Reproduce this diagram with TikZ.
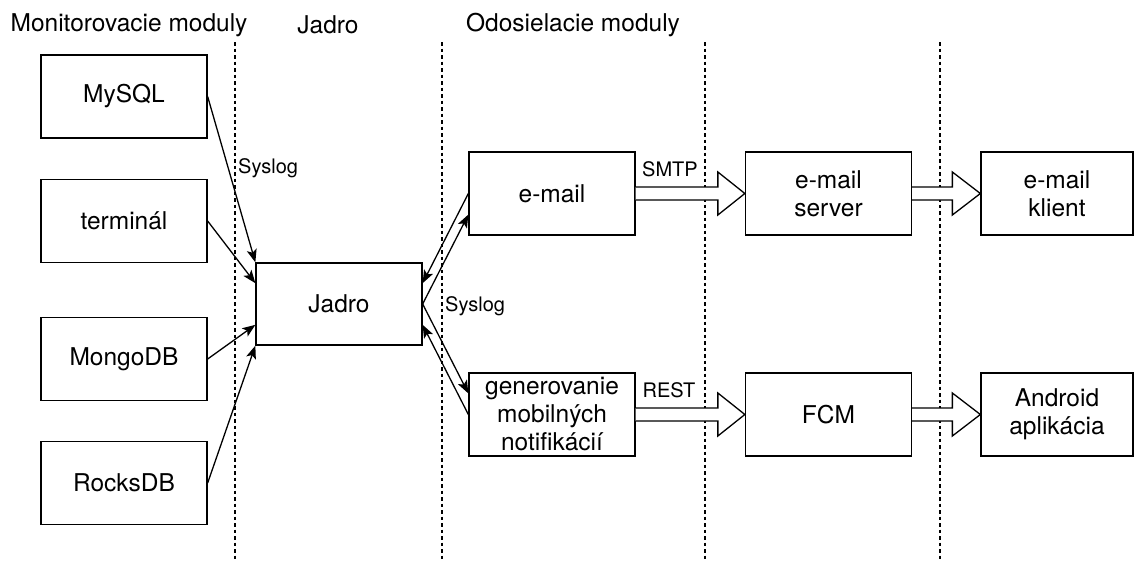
\documentclass[tikz,border=0pt]{standalone}
\usepackage{fontspec}
\setmainfont{TeX Gyre Heros}
\usetikzlibrary{arrows.meta,calc}
\begin{document}
\begin{tikzpicture}[x=1pt,y=-1pt,
  box/.style={draw,line width=1.3pt,minimum width=166pt,minimum height=83pt,inner sep=0pt,align=center,font=\fontsize{24.5}{28}\selectfont},
  narrowbox/.style={box,minimum width=152pt},
  hdr/.style={font=\fontsize{24.5}{28}\selectfont,inner sep=0pt},
  lbl/.style={font=\fontsize{20}{24}\selectfont,inner sep=0pt},
  sep/.style={line width=1.2pt,dash pattern=on 3.5pt off 3pt},
  conn/.style={line width=1.3pt,-{Stealth[length=13pt,width=10pt,inset=3pt]}},
  blk/.style={line width=1.3pt,fill=white}
]
\useasboundingbox (0,0) rectangle (1138,562);

% separators
\draw[sep] (235,42) -- (235,562);
\draw[sep] (442,42) -- (442,562);
\draw[sep] (705,42) -- (705,562);
\draw[sep] (940,42) -- (940,562);

% headers
\node[hdr] (h1) at (129,25) {Monitorovacie moduly};
\node[hdr] (h2) at (328,25) {Jadro};
\node[hdr] (h3) at (573,25) {Odosielacie moduly};

% boxes
\node[box] (mysql) at (124,96.5) {MySQL};
\node[box] (term) at (124,221) {terminál};
\node[box] (mongo) at (124,359) {MongoDB};
\node[box] (rocks) at (124,483) {RocksDB};
\node[box,minimum height=82pt] (jadro) at (339,304) {Jadro};
\node[box] (email) at (552,193.5) {e-mail};
\node[box] (gen) at (552,414.5) {generovanie\\mobilných\\notifikácií};
\node[box] (server) at (828.5,193.5) {e-mail\\server};
\node[box] (fcm) at (828.5,414.5) {FCM};
\node[narrowbox] (klient) at (1057,193.5) {e-mail\\klient};
\node[narrowbox] (android) at (1057,414.5) {Android\\aplikácia};

% left connectors
\draw[conn] (mysql.east) -- (jadro.north west);
\draw[conn] (term.east) -- ($(jadro.north west)!0.25!(jadro.south west)$);
\draw[conn] (mongo.east) -- ($(jadro.north west)!0.75!(jadro.south west)$);
\draw[conn] (rocks.east) -- (jadro.south west);
\node[lbl,anchor=west] (syslog1) at (238,168) {Syslog};

% right connectors
\draw[conn] (email.west) -- ($(jadro.north east)!0.25!(jadro.south east)$);
\draw[conn] (jadro.east) -- ($(email.north west)!0.75!(email.south west)$);
\draw[conn] (jadro.east) -- ($(gen.north west)!0.25!(gen.south west)$);
\draw[conn] (gen.west) -- ($(jadro.north east)!0.75!(jadro.south east)$);
\node[lbl,anchor=west] (syslog2) at (445,306) {Syslog};

% block arrows
\newcommand\blockarrow[3]{%
  \draw[blk] ($(#1.east)+(0,-6.5)$) -- ($(#2.west)+(-#3,-6.5)$) -- ($(#2.west)+(-#3,-21.5)$)
    -- (#2.west) -- ($(#2.west)+(-#3,21.5)$) -- ($(#2.west)+(-#3,6.5)$) -- ($(#1.east)+(0,6.5)$);}
\blockarrow{email}{server}{27}
\blockarrow{server}{klient}{28}
\blockarrow{gen}{fcm}{27}
\blockarrow{fcm}{android}{28}
\node[lbl] (smtp) at (670,169) {SMTP};
\node[lbl] (rest) at (669,390) {REST};
\end{tikzpicture}
\end{document}
